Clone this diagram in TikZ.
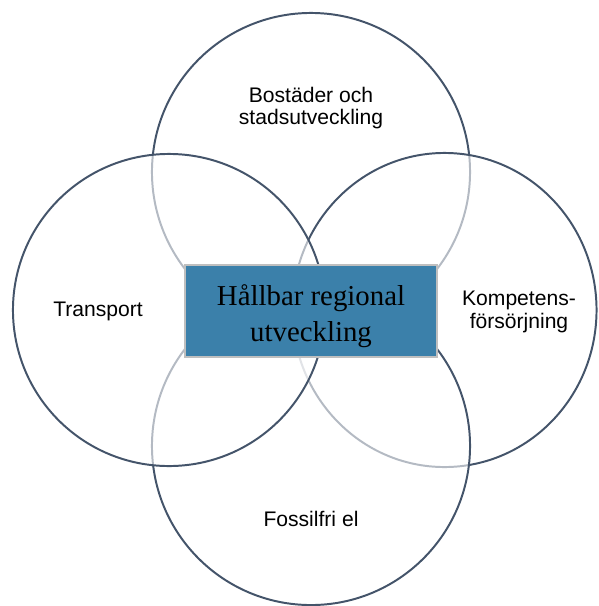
\documentclass[tikz,border=0pt]{standalone}
\usepackage{fontspec}
\setmainfont{Liberation Serif}
\setsansfont{Liberation Sans}
\usetikzlibrary{shapes.geometric}

\definecolor{ringcol}{HTML}{44546A}
\definecolor{boxblue}{RGB}{59,128,170}
\definecolor{boxline}{HTML}{BFBFBF}

\tikzset{
  ring/.style={draw=ringcol, line width=1.4pt, fill=white, fill opacity=0.6, inner sep=0pt},
  area/.style={font=\sffamily\fontsize{15}{16}\selectfont, align=center},
  core/.style={draw=boxline, line width=1.4pt, fill=boxblue, minimum width=6.3cm,
    minimum height=2.3cm, align=center, font=\fontsize{20.5}{26}\selectfont},
}

\begin{document}
\begin{tikzpicture}[x=0.025cm, y=-0.025cm]
\useasboundingbox (0,0) rectangle (599,606);

% the four areas
\node[ring, circle, minimum size=7.95cm] (bo) at (311,172) {};
\node[ring, ellipse, minimum width=7.6cm, minimum height=7.85cm] (ko) at (444.5,310) {};
\node[ring, circle, minimum size=7.95cm] (fo) at (311,446) {};
\node[ring, circle, minimum size=7.8cm] (tr) at (169,310) {};

\node[area] (bol) at (311,108) {Bostäder och\\stadsutveckling};
\node[area] (kol) at (519,312) {Kompetens-\\försörjning};
\node[area] (fol) at (311,519) {Fossilfri el};
\node[area] (trl) at (98,311) {Transport};

% centre
\node[core] (hru) at (311,311) {\rule{0pt}{22pt}Hållbar regional\\utveckling};
\end{tikzpicture}
\end{document}
